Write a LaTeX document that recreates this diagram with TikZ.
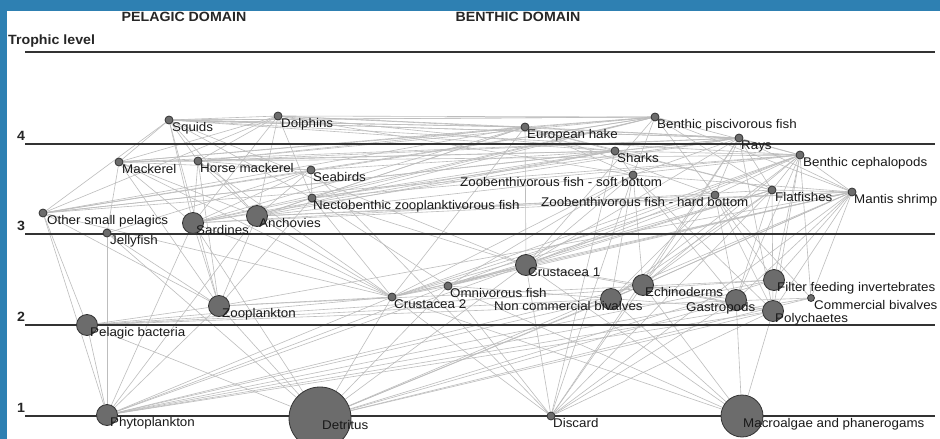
\documentclass[tikz,border=0pt]{standalone}
\usepackage{fontspec}
\setmainfont{Liberation Sans}[FakeStretch=1.06]
\usetikzlibrary{backgrounds}

\definecolor{frameblue}{HTML}{2E80B2}
\definecolor{linkgray}{HTML}{BDBDBD}
\definecolor{nodegray}{HTML}{6C6C6C}

\tikzset{
  grp/.style={circle,draw=black!80,line width=.8pt,fill=nodegray,inner sep=0pt},
  lbl/.style={anchor=base west,inner sep=0pt,text=black!90,font=\fontsize{12.6}{14}\selectfont},
  link/.style={draw=linkgray,line width=.6pt},
  level/.style={draw=black!80,line width=1.1pt},
  head/.style={font=\bfseries\fontsize{13.4}{15}\selectfont,text=black!85}
}

% name, x, y, size, label x, label
\newcommand\foodnode[6]{%
  \node[grp,minimum size=#4] (#1) at (#2,#3) {};
  \node[lbl] (#1-l) at (#5,#3+11) {#6};
}

\begin{document}
\begin{tikzpicture}[x=1pt,y=-1pt]
\clip (0,0) rectangle (940,439);
\begin{scope}[on background layer]
\fill[frameblue] (0,0) rectangle (940,439);
\fill[white] (7,11) rectangle (940,439);
\end{scope}

% headings
\node[head] (pel) at (184,17) {PELAGIC DOMAIN};
\node[head] (ben) at (518,17) {BENTHIC DOMAIN};
\node[head,anchor=west,inner sep=0pt] (tl) at (8,41) {Trophic level};

% trophic levels
\draw[level] (25,52) -- (935,52);
\foreach \t/\y in {4/144,3/234,2/325,1/416}{
  \draw[level] (25,\y) -- (935,\y);
  \node[head] (lev\t) at (21,\y-8) {\t};
}

% groups
\foodnode{squids}{169}{120}{8}{172}{Squids}
\foodnode{dolphins}{278}{116}{8}{281}{Dolphins}
\foodnode{hake}{525}{127}{8}{527}{European hake}
\foodnode{bpisc}{655}{117}{8}{657}{Benthic piscivorous fish}
\foodnode{rays}{739}{138}{8}{741}{Rays}
\foodnode{mackerel}{119}{162}{8}{122}{Mackerel}
\foodnode{hmackerel}{198}{161}{8}{200}{Horse mackerel}
\foodnode{seabirds}{311}{170}{8}{313}{Seabirds}
\foodnode{sharks}{615}{151}{8}{617}{Sharks}
\foodnode{bceph}{800}{155}{8}{803}{Benthic cephalopods}
\foodnode{zbsoft}{633}{175}{8}{460}{Zoobenthivorous fish - soft bottom}
\foodnode{necto}{312}{198}{8}{313}{Nectobenthic zooplanktivorous fish}
\foodnode{zbhard}{715}{195}{8}{541}{Zoobenthivorous fish - hard bottom}
\foodnode{flatfish}{772}{190}{8}{775}{Flatfishes}
\foodnode{mantis}{852}{192}{8}{854}{Mantis shrimp}
\foodnode{osp}{43}{213}{8}{47}{Other small pelagics}
\foodnode{sardines}{193}{223}{21}{196}{Sardines}
\foodnode{anchovies}{257}{216}{21}{259}{Anchovies}
\foodnode{jelly}{107}{233}{8}{110}{Jellyfish}
\foodnode{crust1}{526}{265}{21}{528}{Crustacea 1}
\foodnode{omni}{448}{286}{8}{450}{Omnivorous fish}
\foodnode{crust2}{392}{297}{8}{394}{Crustacea 2}
\foodnode{ncbiv}{611}{299}{21}{494}{Non commercial bivalves}
\foodnode{echino}{643}{285}{21}{645}{Echinoderms}
\foodnode{gastro}{736}{300}{21}{686}{Gastropods}
\foodnode{filter}{774}{280}{21}{777}{Filter feeding invertebrates}
\foodnode{cbiv}{811}{298}{7}{814}{Commercial bivalves}
\foodnode{poly}{773}{311}{21}{775}{Polychaetes}
\foodnode{zoo}{219}{306}{21}{222}{Zooplankton}
\foodnode{bact}{87}{325}{21}{90}{Pelagic bacteria}
\foodnode{phyto}{107}{415}{21}{110}{Phytoplankton}
\foodnode{detritus}{320}{418}{62}{322}{Detritus}
\foodnode{discard}{551}{416}{8}{553}{Discard}
\foodnode{macro}{742}{416}{42}{743}{Macroalgae and phanerogams}

% feeding links
\begin{scope}[on background layer]
\foreach \a/\b in {
  dolphins/hake,dolphins/mackerel,dolphins/hmackerel,dolphins/sardines,dolphins/anchovies,
  dolphins/osp,dolphins/squids,dolphins/bpisc,dolphins/necto,dolphins/sharks,
  dolphins/rays,dolphins/zbsoft,
  squids/sardines,squids/anchovies,squids/osp,squids/mackerel,squids/hmackerel,
  squids/zoo,squids/crust1,squids/necto,squids/hake,squids/bceph,squids/rays,squids/bpisc,
  seabirds/sardines,seabirds/anchovies,seabirds/osp,seabirds/discard,
  seabirds/mackerel,seabirds/hmackerel,seabirds/jelly,seabirds/necto,
  hake/sardines,hake/anchovies,hake/osp,hake/hmackerel,hake/mackerel,hake/squids,
  hake/necto,hake/crust1,hake/zbsoft,hake/zbhard,hake/crust2,hake/flatfish,
  bpisc/hake,bpisc/necto,bpisc/zbsoft,bpisc/zbhard,bpisc/flatfish,bpisc/sardines,
  bpisc/anchovies,bpisc/crust1,bpisc/bceph,bpisc/mantis,bpisc/squids,bpisc/seabirds,
  bpisc/mackerel,bpisc/hmackerel,bpisc/osp,
  rays/crust1,rays/mantis,rays/zbsoft,rays/zbhard,rays/flatfish,rays/poly,
  rays/echino,rays/bceph,rays/necto,rays/discard,rays/squids,rays/hake,
  rays/mackerel,rays/hmackerel,rays/osp,rays/sardines,
  sharks/hake,sharks/sardines,sharks/anchovies,sharks/squids,sharks/bceph,
  sharks/flatfish,sharks/necto,sharks/zbsoft,sharks/discard,sharks/rays,sharks/mackerel,
  sharks/hmackerel,sharks/osp,sharks/seabirds,
  mackerel/zoo,mackerel/anchovies,mackerel/sardines,mackerel/crust2,mackerel/jelly,
  hmackerel/zoo,hmackerel/anchovies,hmackerel/sardines,hmackerel/crust2,
  bceph/crust1,bceph/mantis,bceph/zbhard,bceph/flatfish,bceph/omni,bceph/echino,
  bceph/gastro,bceph/cbiv,bceph/ncbiv,bceph/poly,bceph/filter,bceph/crust2,
  bceph/osp,bceph/mackerel,bceph/necto,bceph/anchovies,
  zbsoft/crust1,zbsoft/poly,zbsoft/ncbiv,zbsoft/echino,zbsoft/gastro,zbsoft/crust2,
  zbsoft/mantis,zbsoft/omni,zbsoft/discard,
  necto/zoo,necto/crust2,necto/crust1,necto/omni,necto/anchovies,necto/sardines,
  zbhard/crust1,zbhard/poly,zbhard/echino,zbhard/gastro,zbhard/filter,zbhard/cbiv,
  zbhard/crust2,zbhard/ncbiv,zbhard/anchovies,
  flatfish/crust1,flatfish/poly,flatfish/echino,flatfish/gastro,flatfish/mantis,
  flatfish/ncbiv,flatfish/discard,flatfish/crust2,flatfish/omni,flatfish/sardines,
  mantis/crust1,mantis/poly,mantis/echino,mantis/gastro,mantis/filter,mantis/cbiv,
  mantis/ncbiv,mantis/omni,mantis/discard,mantis/detritus,mantis/crust2,
  mantis/sardines,mantis/anchovies,mantis/zoo,
  osp/zoo,osp/phyto,osp/crust2,osp/bact,
  sardines/zoo,sardines/phyto,sardines/crust2,sardines/detritus,
  anchovies/zoo,anchovies/phyto,anchovies/crust2,
  jelly/zoo,jelly/phyto,jelly/detritus,
  crust1/detritus,crust1/poly,crust1/macro,crust1/discard,crust1/crust2,
  crust1/phyto,crust1/omni,crust1/echino,
  omni/crust2,omni/poly,omni/detritus,omni/discard,omni/crust1,omni/macro,omni/phyto,
  crust2/detritus,crust2/phyto,crust2/bact,crust2/zoo,crust2/macro,crust2/discard,
  ncbiv/phyto,ncbiv/detritus,ncbiv/bact,ncbiv/macro,
  echino/detritus,echino/macro,echino/poly,echino/discard,echino/phyto,echino/ncbiv,echino/gastro,
  gastro/macro,gastro/detritus,gastro/phyto,gastro/discard,
  filter/phyto,filter/detritus,filter/zoo,filter/bact,
  cbiv/phyto,cbiv/detritus,cbiv/bact,
  poly/detritus,poly/macro,poly/discard,poly/phyto,
  zoo/phyto,zoo/bact,zoo/detritus,
  bact/detritus,bact/phyto}
  \draw[link] (\a) -- (\b);
\end{scope}
\end{tikzpicture}
\end{document}
